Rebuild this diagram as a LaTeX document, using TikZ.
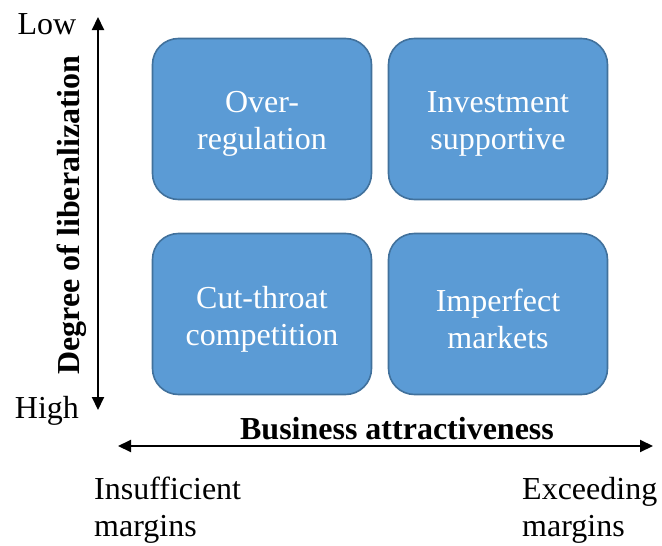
\documentclass[tikz,border=0pt]{standalone}
\usepackage{fontspec}
\setmainfont{Liberation Serif}
\usetikzlibrary{arrows.meta}
\definecolor{boxfill}{HTML}{5B9BD5}
\definecolor{boxline}{HTML}{41719C}
\begin{document}
\begin{tikzpicture}[x=1pt,y=-1pt,
  quad/.style={draw=boxline,line width=1.6pt,fill=boxfill,rounded corners=26pt,
    minimum width=219pt,minimum height=161pt,inner sep=0pt},
  quadtxt/.style={text=white,align=center,font=\fontsize{32}{37}\selectfont,inner sep=0pt,yshift=-5pt},
  lbl/.style={font=\fontsize{32}{37}\selectfont,inner sep=0pt,align=left},
  axis/.style={line width=2pt,{Triangle[length=13pt,width=12pt]}-{Triangle[length=13pt,width=12pt]}}]
\useasboundingbox (0,0) rectangle (662,546);
\node[quad] (ol) at (262,119) {};
\node[quad] (is) at (498,119) {};
\node[quad] (cc) at (262,314) {};
\node[quad] (im) at (498,314) {};
\node[quadtxt] (olt) at (ol.center) {Over-\\regulation};
\node[quadtxt] (ist) at (is.center) {Investment\\supportive};
\node[quadtxt] (cct) at (cc.center) {Cut-throat\\competition};
\node[quadtxt] (imt) at (im.center) {Imperfect\\markets};
\coordinate (vt) at (98,17);
\coordinate (vb) at (98,410);
\coordinate (hl) at (118,446);
\coordinate (hr) at (653,446);
\draw[axis] (vt) -- (vb);
\draw[axis] (hl) -- (hr);
\node[lbl] (low) at (47,24) {Low};
\node[lbl] (high) at (47,411) {High};
\node[font=\fontsize{32}{37}\selectfont\bfseries,rotate=90,inner sep=0pt] (deg) at (72,215) {Degree of liberalization};
\node[font=\fontsize{32}{37}\selectfont\bfseries,inner sep=0pt] (ba) at (397,429) {Business attractiveness};
\node[lbl,anchor=north west] (ins) at (94,477) {Insufficient\\margins};
\node[lbl,anchor=north west] (exc) at (522,477) {Exceeding\\margins};
\end{tikzpicture}
\end{document}
